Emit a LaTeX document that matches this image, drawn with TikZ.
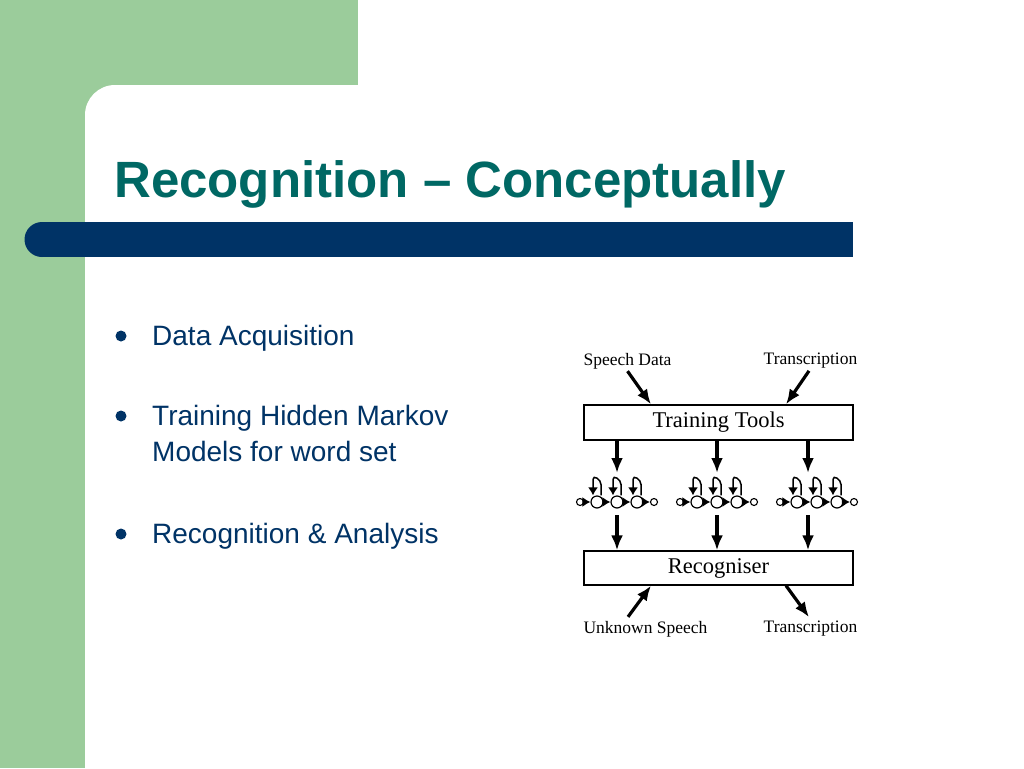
\documentclass[tikz,border=0pt]{standalone}
\usepackage{fontspec}
\setmainfont{Liberation Sans}
\newfontfamily\dfont{Liberation Serif}
\usetikzlibrary{arrows.meta,calc}
\definecolor{bggreen}{RGB}{155,204,155}
\definecolor{navy}{RGB}{0,51,102}
\definecolor{teal}{RGB}{0,104,100}
\tikzset{
  box/.style={draw,line width=1.3pt,minimum width=269pt,minimum height=35pt,inner sep=0pt,font=\dfont\fontsize{22.5}{24}\selectfont},
  lbl/.style={inner sep=1pt,font=\dfont\fontsize{17.5}{20}\selectfont},
  bigarrow/.style={line width=3.2pt,-{Latex[length=15pt,width=12pt]}},
  state/.style={draw,circle,line width=1.2pt,minimum size=12pt,inner sep=0pt,fill=white},
  endst/.style={draw,circle,line width=1.1pt,minimum size=7pt,inner sep=0pt,fill=white},
  hmmarrow/.style={line width=1.5pt,-{Latex[length=8pt,width=10pt]}},
  bullet/.style={circle,fill=navy,minimum size=11pt,inner sep=0pt},
  btext/.style={anchor=base west,inner sep=0pt,text=navy,font=\fontsize{28}{36}\selectfont},
  hmm/.pic={
    \node[endst] (-e) at (-37,0) {};
    \node[state] (-s1) at (-20,0) {};
    \node[state] (-s2) at (0,0) {};
    \node[state] (-s3) at (20,0) {};
    \node[endst] (-x) at (37,0) {};
    \coordinate (-top) at (0,-29);
    \coordinate (-bot) at (0,13);
    \draw[hmmarrow] (-e) -- (-s1);
    \draw[hmmarrow] (-s1) -- (-s2);
    \draw[hmmarrow] (-s2) -- (-s3);
    \draw[hmmarrow] (-s3) -- (-x);
    \foreach \s in {s1,s2,s3}{
      \draw[hmmarrow] ([xshift=4pt]-\s.north) -- ++(0,-11) .. controls ++(0,-5) and ($(-\s.north)+(-4,-21)$) .. ($(-\s.north)+(-4,-16)$) -- ([xshift=-4pt]-\s.north);
    }
  }
}
\begin{document}
\begin{tikzpicture}[x=1pt,y=-1pt]
\useasboundingbox (0,0) rectangle (1024,768);
\clip (0,0) rectangle (1024,768);
% background
\fill[white] (0,0) rectangle (1024,768);
\fill[bggreen] (0,0) rectangle (358,130);
\fill[bggreen] (0,0) rectangle (85,768);
\fill[white,rounded corners=30pt] (85,85) rectangle (1100,900);
% title bar
\fill[navy] (42,222) rectangle (853,257);
\fill[navy] (42,239.5) circle (17.5);
% title
\node[anchor=base west,inner sep=0pt,text=teal,font=\bfseries\fontsize{51}{60}\selectfont] (title) at (114,197) {Recognition – Conceptually};
% bullets
\node[bullet] (d1) at (121,336) {};
\node[btext] (b1) at (152,345) {Data Acquisition};
\node[bullet] (d2) at (121,416) {};
\node[btext] (b2) at (152,425) {Training Hidden Markov};
\node[btext] (b2b) at (152,461) {Models for word set};
\node[bullet] (d3) at (121,534) {};
\node[btext] (b3) at (152,543) {Recognition \& Analysis};
% diagram
\node[box] (tt) at (718.5,422.5) {\raisebox{-2pt}{Training Tools}};
\node[box,minimum height=34pt] (rc) at (718.5,568) {\raisebox{-2pt}{Recogniser}};
\node[lbl] (sd) at (627.5,361) {Speech Data};
\node[lbl] (tr1) at (810.5,361) {Transcription};
\node[lbl] (us) at (645.5,629) {Unknown Speech};
\node[lbl] (tr2) at (810.5,629) {Transcription};
\draw[bigarrow] ([yshift=-1pt]sd.south) -- ([xshift=-67.5pt]tt.north);
\draw[bigarrow] ([yshift=-1pt,xshift=-1.5pt]tr1.south) -- ([xshift=67.5pt]tt.north);
\draw[bigarrow] ([xshift=-17.5pt,yshift=3pt]us.north) -- ([xshift=-67.5pt]rc.south);
\draw[bigarrow] ([xshift=67.5pt]rc.south) -- ([xshift=-1.5pt,yshift=3pt]tr2.north);
% hmm icons
\pic (h1) at (617,502) {hmm};
\pic (h2) at (717,502) {hmm};
\pic (h3) at (817,502) {hmm};
\draw[bigarrow] (tt.south -| h1-top) -- (h1-top);
\draw[bigarrow] (tt.south -| h2-top) -- (h2-top);
\draw[bigarrow] ([xshift=-9pt]tt.south -| h3-top) -- ([xshift=-9pt]h3-top);
\draw[bigarrow] (h1-bot) -- (h1-bot |- rc.north);
\draw[bigarrow] (h2-bot) -- (h2-bot |- rc.north);
\draw[bigarrow] ([xshift=-9pt]h3-bot) -- ([xshift=-9pt]h3-bot |- rc.north);
\end{tikzpicture}
\end{document}
